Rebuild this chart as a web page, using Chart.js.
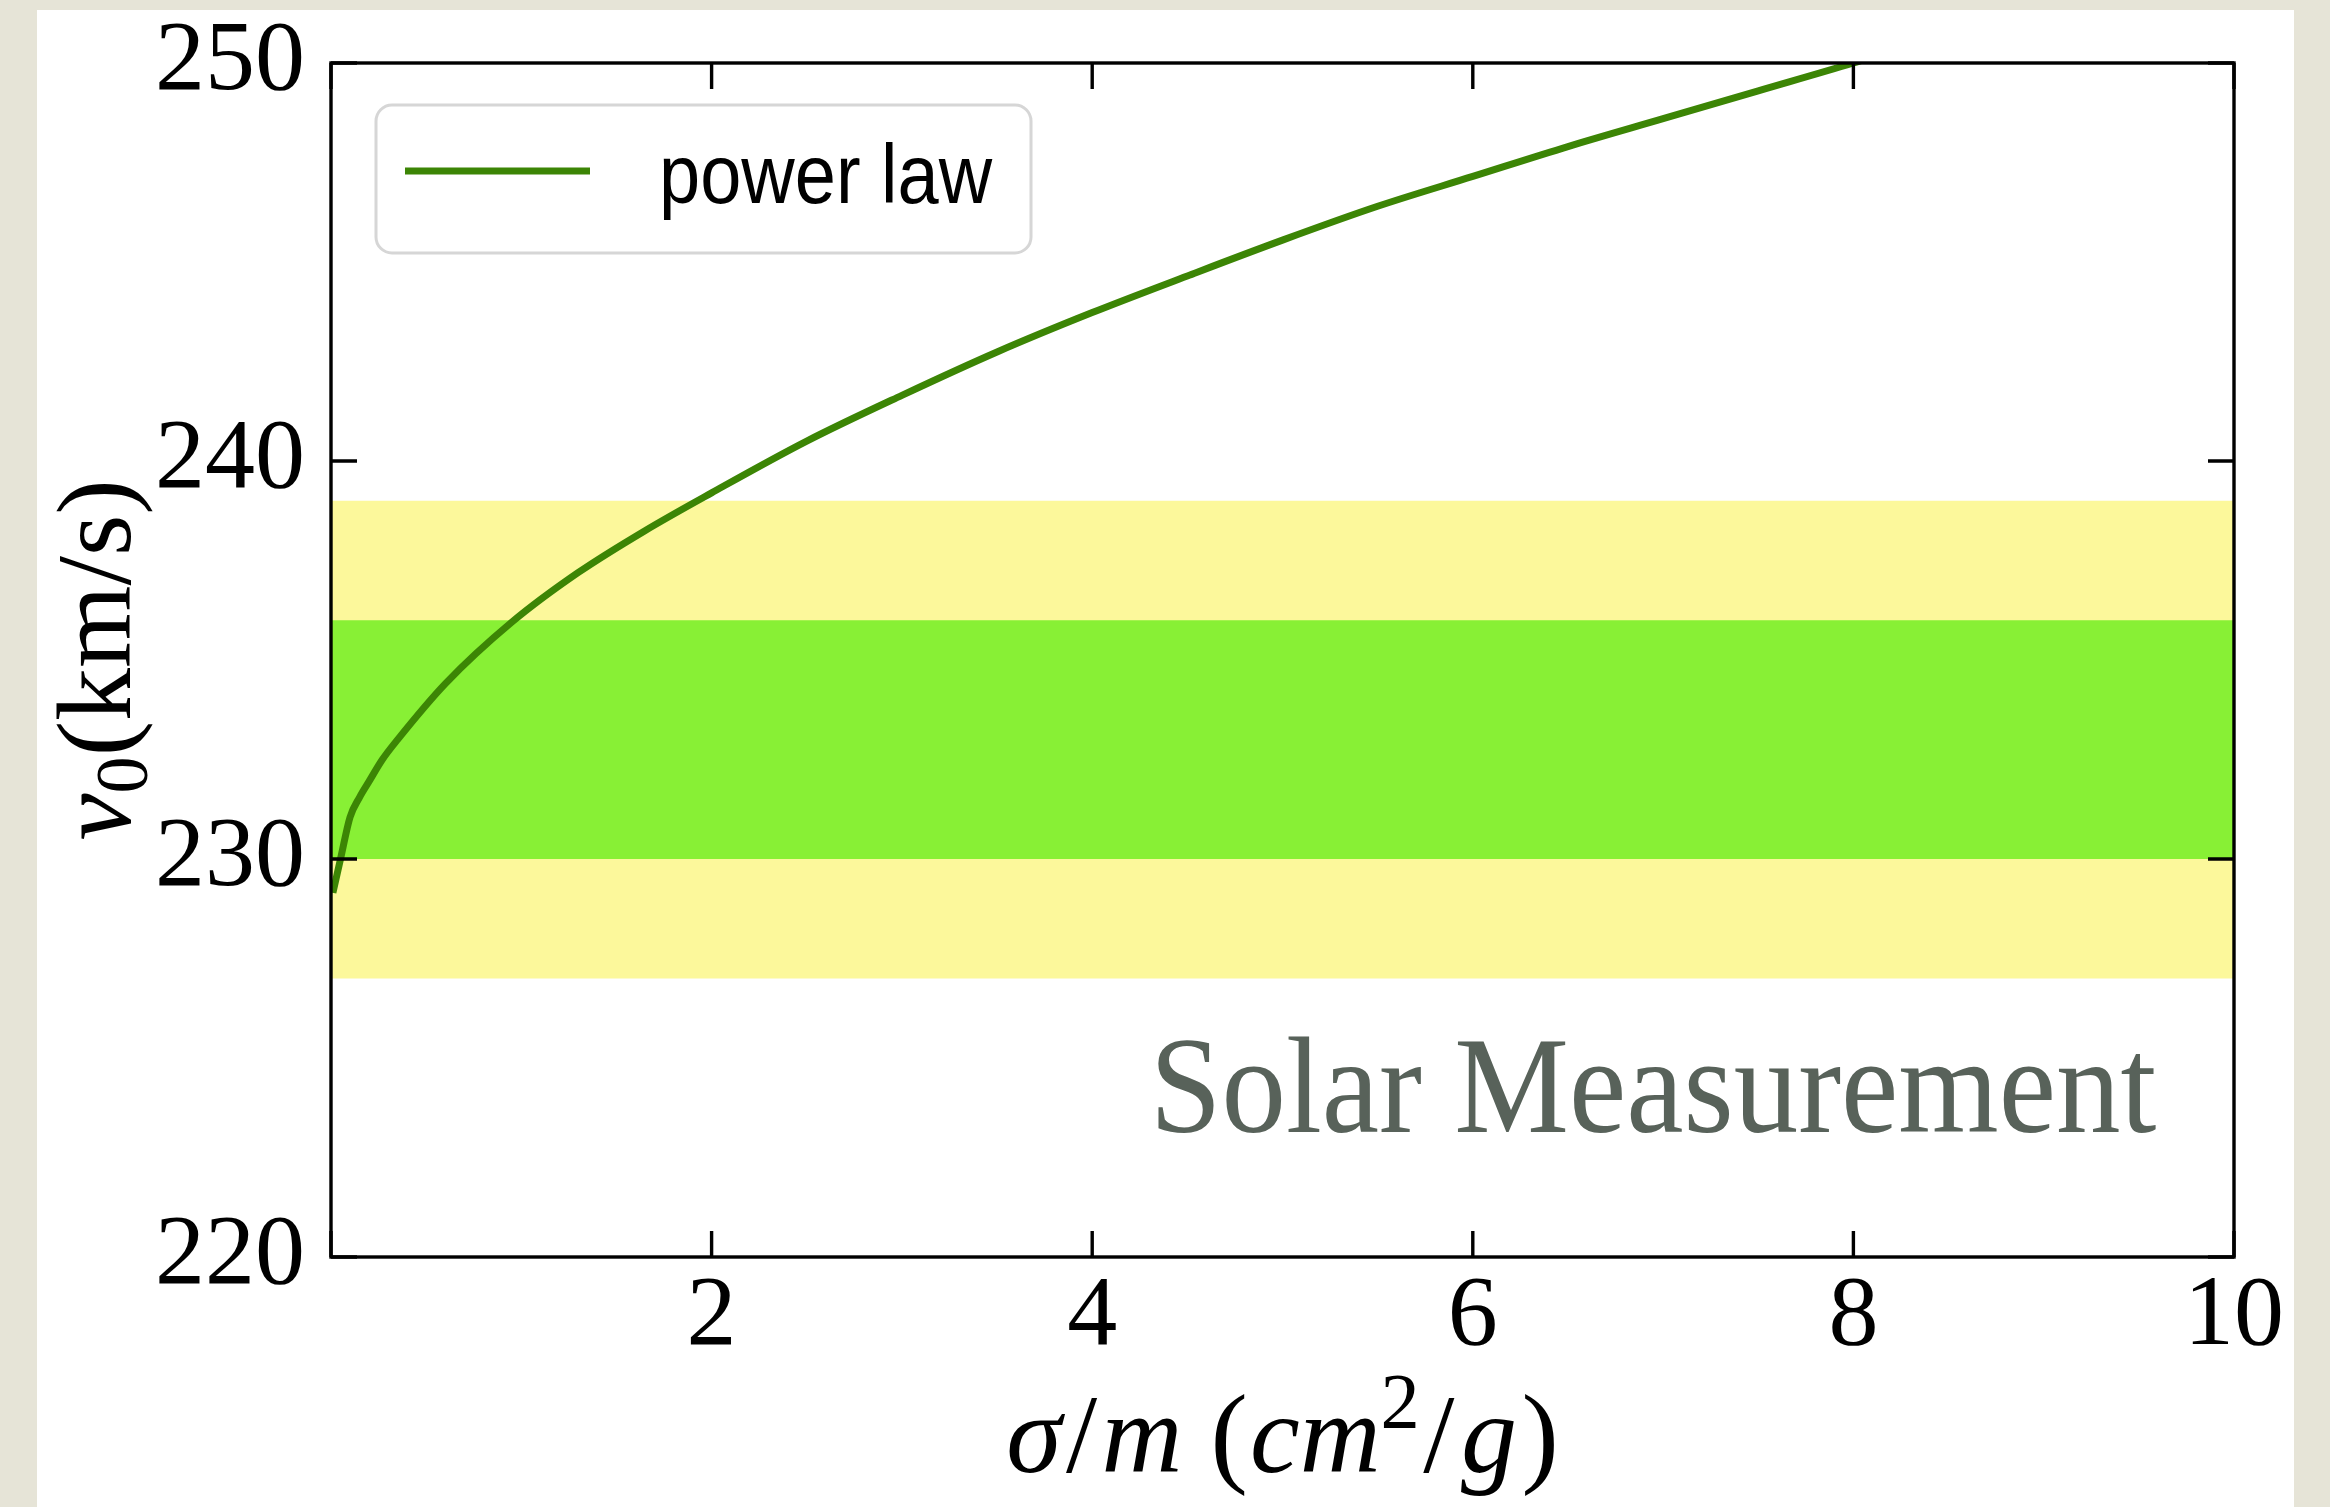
<!DOCTYPE html>
<html>
<head>
<meta charset="utf-8">
<title>v0 vs sigma/m</title>
<script src="https://cdn.jsdelivr.net/npm/chart.js@4.4.1/dist/chart.umd.min.js"></script>
<style>
    html, body { margin: 0; padding: 0; background: #e6e4d7; }
    #panel { position: absolute; left: 37px; top: 10px; width: 2257px; height: 1497px; background: #fff; }
    #wrap { position: absolute; left: 0; top: 0; width: 2330px; height: 1507px; }
</style>
</head>
<body>
<div id="panel"></div>
<div id="wrap"><canvas id="chartCanvas" width="2330" height="1507"></canvas></div>
<script>
// sigma/m (cm^2/g) and v0 (km/s) along the power-law curve
const sigmaM = [0.01, 0.05, 0.1, 0.15, 0.2, 0.27, 0.35, 0.6, 0.95, 1.3, 1.65, 2.0, 2.5, 3.0, 3.5,
    4.0, 4.5, 5.0, 5.5, 6.0, 6.5, 7.0, 7.5, 8.0, 8.1];
const v0 = [229.15, 230.0, 231.05, 231.55, 231.95, 232.5, 233.0, 234.4, 235.95, 237.2, 238.25,
    239.2, 240.5, 241.65, 242.74, 243.73, 244.65, 245.55, 246.4, 247.15, 247.9, 248.6, 249.3,
    250.0, 250.15];

// solar measurement bands, [low, high] in km/s
const bandX = [0, 10];
const yellowBand = [227, 239];
const greenBand = [230, 236];

const xTicks = [2, 4, 6, 8, 10];
const yTicks = [220, 230, 240, 250];

const SERIF = '"Liberation Serif", "DejaVu Serif", serif';
const TICK_LEN = 26;

function bandDataset(band, color, order) {
    return {
        label: '',
        data: bandX.map(x => ({ x: x, y: band[1] })),
        borderWidth: 0,
        pointRadius: 0,
        backgroundColor: color,
        fill: { value: band[0] },
        order: order
    };
}

// draws a run of text pieces with their own style, centred on x
function drawPieces(ctx, pieces, x, y, size) {
    let total = 0;
    const runs = pieces.map(p => {
        const s = size * (p.scale || 1);
        const font = (p.italic ? 'italic ' : '') + s + 'px ' + SERIF;
        ctx.font = font;
        const w = ctx.measureText(p.text).width;
        total += w + (p.gap || 0) * size;
        return { text: p.text, font: font, w: w, dy: (p.dy || 0) * size, gap: (p.gap || 0) * size };
    });
    let cx = x - total / 2;
    ctx.textAlign = 'left';
    ctx.textBaseline = 'alphabetic';
    runs.forEach(r => {
        ctx.font = r.font;
        ctx.fillText(r.text, cx, y + r.dy);
        cx += r.w + r.gap;
    });
}

const framePlugin = {
    id: 'frame',
    afterDraw(chart) {
        const { ctx, chartArea: a, scales: { x, y } } = chart;
        ctx.save();

        // spines and inward ticks on all four sides
        ctx.strokeStyle = '#000';
        ctx.lineWidth = 3.4;
        ctx.beginPath();
        [0].concat(xTicks).forEach(v => {
            const px = x.getPixelForValue(v);
            ctx.moveTo(px, a.bottom); ctx.lineTo(px, a.bottom - TICK_LEN);
            ctx.moveTo(px, a.top); ctx.lineTo(px, a.top + TICK_LEN);
        });
        yTicks.forEach(v => {
            const py = y.getPixelForValue(v);
            ctx.moveTo(a.left, py); ctx.lineTo(a.left + TICK_LEN, py);
            ctx.moveTo(a.right, py); ctx.lineTo(a.right - TICK_LEN, py);
        });
        ctx.stroke();
        ctx.strokeRect(a.left, a.top, a.right - a.left, a.bottom - a.top);

        // legend box
        const lx = a.left + 45, ly = a.top + 42, lw = 655, lh = 148;
        ctx.beginPath();
        ctx.roundRect(lx, ly, lw, lh, 16);
        ctx.fillStyle = 'rgba(255,255,255,0.85)';
        ctx.fill();
        ctx.strokeStyle = '#d6d6d6';
        ctx.lineWidth = 3;
        ctx.stroke();
        const ds = chart.data.datasets[0];
        ctx.strokeStyle = ds.borderColor;
        ctx.lineWidth = 7;
        ctx.beginPath();
        ctx.moveTo(lx + 29, ly + 66);
        ctx.lineTo(lx + 214, ly + 66);
        ctx.stroke();
        ctx.save();
        ctx.translate(lx + 283, ly + 98);
        ctx.scale(1, 1.13);
        ctx.fillStyle = '#000';
        ctx.font = '74px "Liberation Sans", Arial, sans-serif';
        ctx.textAlign = 'left';
        ctx.textBaseline = 'alphabetic';
        ctx.fillText(ds.label, 0, 0);
        ctx.restore();

        // annotation
        ctx.save();
        ctx.translate(1653, 1132);
        ctx.scale(1, 1.06);
        ctx.fillStyle = '#58625a';
        ctx.font = '129px ' + SERIF;
        ctx.textAlign = 'center';
        ctx.fillText('Solar Measurement', 0, 0);
        ctx.restore();

        // axis titles
        ctx.fillStyle = '#000';
        drawPieces(ctx, [
            { text: 'σ', italic: true, gap: 0.04 },
            { text: '/', gap: 0.04 },
            { text: 'm', italic: true, gap: 0.25 },
            { text: '(', gap: 0.02 },
            { text: 'cm', italic: true },
            { text: '2', scale: 0.7, dy: -0.4, gap: 0.03 },
            { text: '/', gap: 0.06 },
            { text: 'g', italic: true, gap: 0.04 },
            { text: ')' }
        ], (a.left + a.right) / 2, 1472, 112);

        ctx.translate(130, (a.top + a.bottom) / 2);
        ctx.rotate(-Math.PI / 2);
        drawPieces(ctx, [
            { text: 'v', italic: true },
            { text: '0', scale: 0.7, dy: 0.16 },
            { text: '(km/s)' }
        ], 0, 0, 106);

        ctx.restore();
    }
};

new Chart(document.getElementById('chartCanvas').getContext('2d'), {
    type: 'line',
    data: {
        datasets: [
            {
                label: 'power law',
                data: sigmaM.map((s, i) => ({ x: s, y: v0[i] })),
                borderColor: '#3c8505',
                borderWidth: 7,
                pointRadius: 0,
                fill: false,
                cubicInterpolationMode: 'monotone',
                order: 0
            },
            bandDataset(greenBand, '#88f035', 1),
            bandDataset(yellowBand, '#fcf89b', 2)
        ]
    },
    options: {
        responsive: false,
        devicePixelRatio: 1,
        animation: false,
        layout: { padding: { left: 0, right: 96, top: 63, bottom: 0 } },
        plugins: {
            legend: { display: false },
            tooltip: { enabled: false }
        },
        scales: {
            x: {
                type: 'linear',
                min: 0,
                max: 10,
                afterBuildTicks: scale => { scale.ticks = xTicks.map(v => ({ value: v })); },
                ticks: {
                    color: '#000',
                    padding: 1,
                    maxRotation: 0,
                    font: { family: SERIF, size: 100 }
                },
                grid: { display: false, drawTicks: false },
                border: { display: false },
                afterFit: scale => {
                    scale.height = 250;
                    scale.paddingLeft = 0;
                    scale.paddingRight = 0;
                }
            },
            y: {
                min: 220,
                max: 250,
                afterBuildTicks: scale => { scale.ticks = yTicks.map(v => ({ value: v })); },
                ticks: {
                    color: '#000',
                    padding: 26,
                    font: { family: SERIF, size: 100 }
                },
                grid: { display: false, drawTicks: false },
                border: { display: false },
                afterFit: scale => {
                    scale.width = 331;
                    scale.paddingTop = 0;
                    scale.paddingBottom = 0;
                }
            }
        }
    },
    plugins: [framePlugin]
});
</script>
</body>
</html>
